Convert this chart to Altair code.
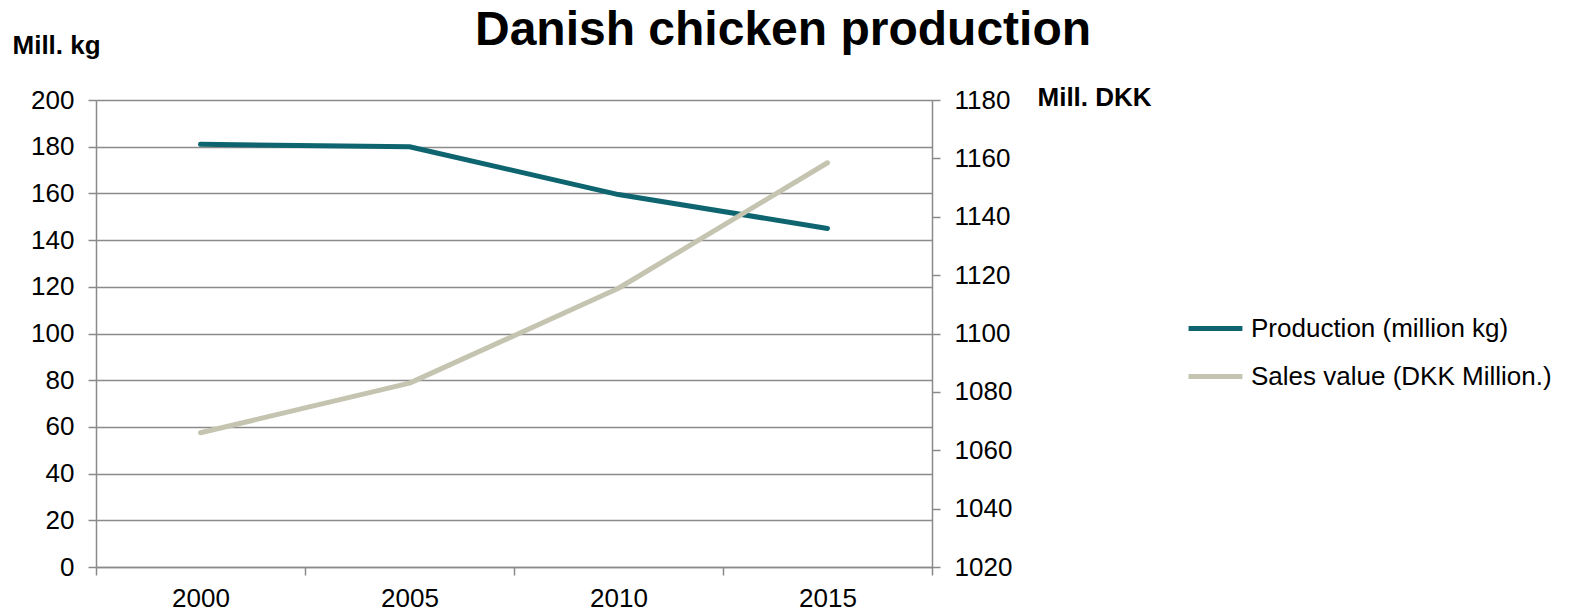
import altair as alt
import pandas as pd

years = ["2000", "2005", "2010", "2015"]
production = [181, 180, 159.5, 145]
sales = [1066, 1083, 1115.5, 1158.5]
series_names = ["Production (million kg)", "Sales value (DKK Million.)"]
series_colors = ["#0e6570", "#c4c4b0"]
left_ticks = list(range(0, 201, 20))
right_ticks = list(range(1020, 1181, 20))

rows = []
for y, p in zip(years, production):
    rows.append({"year": y, "series": series_names[0], "value": p})
for y, s in zip(years, sales):
    rows.append({"year": y, "series": series_names[1], "value": s})
df = pd.DataFrame(rows)

FONT = "Liberation Sans"
GRAY = "#8a8a8a"

x_enc = alt.X(
    "year:O",
    bandPosition=0.5,
    scale=alt.Scale(type="band", paddingInner=0, paddingOuter=0),
    axis=alt.Axis(
        title=None, labelAngle=0, tickBand="extent", grid=False,
        domainColor=GRAY, tickColor=GRAY, domainWidth=1.5, tickWidth=1.5,
        tickSize=8, labelPadding=10, labelFontSize=26, labelFont=FONT,
        labelColor="#000000",
    ),
)

color_enc = alt.Color(
    "series:N",
    scale=alt.Scale(domain=series_names, range=series_colors),
    legend=alt.Legend(
        title=None, orient="none", legendX=1090, legendY=199,
        symbolType="stroke", symbolSize=2900, symbolStrokeWidth=5,
        labelFontSize=26, labelFont=FONT, labelColor="#000000",
        labelOffset=6, rowPadding=5, labelLimit=400,
    ),
)

left = alt.Chart(df).transform_filter(
    alt.datum.series == series_names[0]
).mark_line(strokeWidth=5, strokeCap="round", strokeJoin="round").encode(
    x=x_enc,
    y=alt.Y(
        "value:Q",
        scale=alt.Scale(domain=[0, 200], nice=False, zero=False),
        axis=alt.Axis(
            values=left_ticks, orient="left", grid=True, gridColor=GRAY,
            gridWidth=1.5, domainColor=GRAY, tickColor=GRAY, domainWidth=1.5,
            tickWidth=1.5, tickSize=8, labelPadding=14, labelFontSize=26,
            labelFont=FONT, labelColor="#000000", format="d",
            title="Mill. kg", titleAngle=0, titleFont=FONT, titleFontSize=26,
            titleFontWeight="bold", titleColor="#000000", titleAlign="left",
            titleBaseline="middle", titleX=-84, titleY=-55,
        ),
    ),
    color=color_enc,
)

right = alt.Chart(df).transform_filter(
    alt.datum.series == series_names[1]
).mark_line(strokeWidth=5, strokeCap="round", strokeJoin="round").encode(
    x=x_enc,
    y=alt.Y(
        "value:Q",
        scale=alt.Scale(domain=[1020, 1180], nice=False, zero=False),
        axis=alt.Axis(
            values=right_ticks, orient="right", grid=False,
            domainColor=GRAY, tickColor=GRAY, domainWidth=1.5,
            tickWidth=1.5, tickSize=8, labelPadding=14, labelFontSize=26,
            labelFont=FONT, labelColor="#000000", format="d",
            title="Mill. DKK", titleAngle=0, titleFont=FONT, titleFontSize=26,
            titleFontWeight="bold", titleColor="#000000", titleAlign="left",
            titleBaseline="middle", titleX=105, titleY=-3,
        ),
    ),
    color=color_enc,
)

chart = alt.layer(left, right).resolve_scale(y="independent").properties(
    width=836,
    height=467,
    autosize=alt.AutoSizeParams(type="none"),
    padding={"left": 88, "top": 92, "right": 630, "bottom": 45},
    title=alt.Title(
        "Danish chicken production", font=FONT, fontSize=48,
        fontWeight="bold", color="#000000", anchor="middle", frame="group",
        dx=269, dy=33, offset=10,
    ),
).configure_view(stroke=None).configure(background="white")

chart.save("out.html", embed_options={"renderer": "svg", "actions": False})
